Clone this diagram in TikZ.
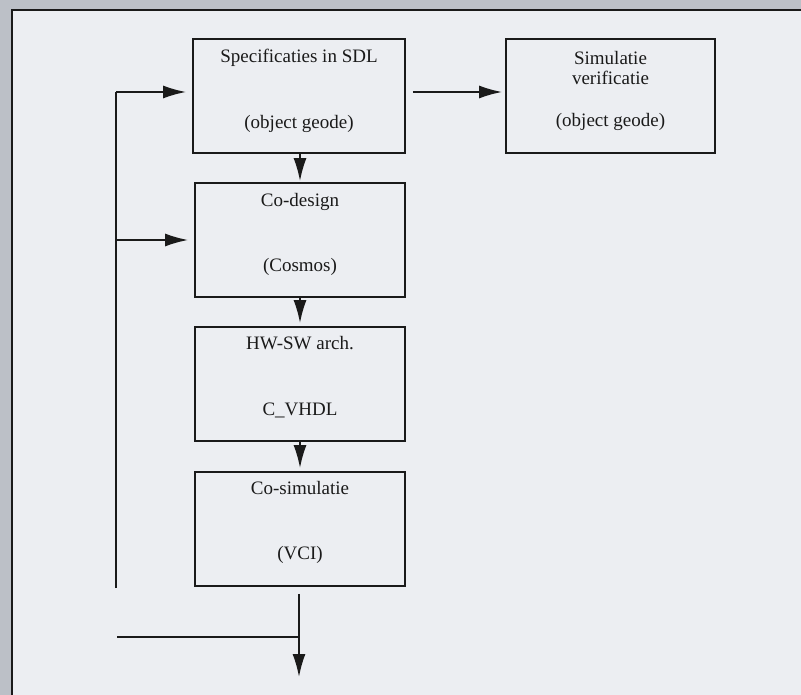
\documentclass[tikz,border=0pt]{standalone}
\usepackage{fontspec}
\setmainfont{Liberation Serif}
\usetikzlibrary{arrows.meta}
\definecolor{band}{HTML}{BCC0C7}
\definecolor{panel}{HTML}{ECEEF2}
\definecolor{ink}{HTML}{1A1A1A}
\begin{document}
\begin{tikzpicture}[x=1pt,y=-1pt,
  box/.style={draw=ink,line width=1.8pt,minimum height=114pt,inner sep=0pt},
  lbl/.style={font=\fontsize{19}{20}\selectfont,text=ink,inner sep=0pt},
  conn/.style={draw=ink,line width=1.8pt},
  arr/.style={conn,-{Latex[length=23pt,width=13pt]}}]
\path[use as bounding box,fill=band] (0,0) rectangle (801,695);
\fill[panel] (12,10) rectangle (801,695);
\draw[ink,line width=1.5pt] (12,695) -- (12,10) -- (801,10);

\node[box,minimum width=212pt] (spec) at (299,96) {};
\node[box,minimum width=209pt] (sim) at (610.5,96) {};
\node[box,minimum width=210pt] (codes) at (300,240) {};
\node[box,minimum width=210pt] (hwsw) at (300,384) {};
\node[box,minimum width=210pt] (cosim) at (300,529) {};

\node[lbl] (spec1) at (299,58) {Specificaties in SDL};
\node[lbl] (spec2) at (299,124) {(object geode)};
\node[lbl] (sim1) at (610.5,58) {Simulatie};
\node[lbl] (sim2) at (610.5,78) {verificatie};
\node[lbl] (sim3) at (610.5,122) {(object geode)};
\node[lbl] (codes1) at (300,202) {Co-design};
\node[lbl] (codes2) at (300,267) {(Cosmos)};
\node[lbl] (hwsw1) at (300,343) {HW-SW arch.};
\node[lbl] (hwsw2) at (300,410) {C\_VHDL};
\node[lbl] (cosim1) at (300,488) {Co-simulatie};
\node[lbl] (cosim2) at (300,555) {(VCI)};

\coordinate (lt) at (116,92);
\coordinate (lm) at (116,240);
\coordinate (lb) at (116,588);
\draw[conn] (lb) -- (lt);
\draw[arr,shorten >=6pt] (lt) -- (spec.west |- lt);
\draw[arr,shorten >=6pt] (lm) -- (codes.west);
\draw[arr,shorten <=7pt,shorten >=3pt] (spec.east |- lt) -- (sim.west |- lt);

\draw[arr,shorten >=1pt] (codes.north |- spec.south) -- (codes.north);
\draw[arr,shorten >=3pt] (codes.south) -- (hwsw.north);
\draw[arr,shorten >=3pt] (hwsw.south) -- (cosim.north);

\coordinate (bl) at (117,637);
\coordinate (bj) at (299,637);
\coordinate (be) at (299,677);
\draw[conn] (bl) -- (bj);
\draw[arr,shorten <=7pt] (cosim.south -| be) -- (be);
\end{tikzpicture}
\end{document}
